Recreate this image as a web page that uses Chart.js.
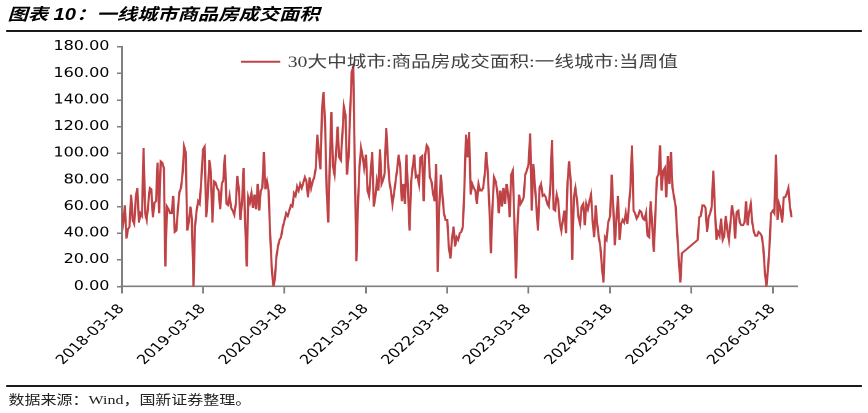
<!DOCTYPE html>
<html lang="zh-CN">
<head>
<meta charset="utf-8">
<title>一线城市商品房成交面积</title>
<script src="https://cdn.jsdelivr.net/npm/chart.js@4.4.1/dist/chart.umd.min.js"></script>
<style>
  html, body { margin: 0; padding: 0; background: #fff; }
  body { width: 868px; height: 413px; overflow: hidden; }
  /* the reference is drawn ~1.23x wider than tall, so the whole page is stretched */
  .page { position: relative; width: 706px; height: 413px; transform: scaleX(1.2295); transform-origin: 0 0; }
  .title { position: absolute; left: 6px; top: 4px; font: italic bold 16.5px "Liberation Sans", "Noto Sans CJK SC", sans-serif; line-height: 20px; color: #000; white-space: nowrap; }
  .rule { position: absolute; left: 5px; width: 696px; height: 2px; background: #1a1a1a; }
  .chartBox { position: absolute; left: 0; top: 33px; width: 706px; height: 350px; }
  .source { position: absolute; left: 7px; top: 391px; font: 13px "Liberation Serif", "Noto Sans CJK SC", serif; line-height: 18px; color: #222; white-space: nowrap; }
</style>
</head>
<body>
<div class="page">
  <div class="title">图表 10：一线城市商品房成交面积</div>
  <div class="rule" style="top:30px"></div>
  <div class="chartBox"><canvas id="myChart"></canvas></div>
  <div class="rule" style="top:385px"></div>
  <div class="source">数据来源：Wind，国新证券整理。</div>
</div>
<script>
let seriesName = "30大中城市:商品房成交面积:一线城市:当周值";

// each year list is weekly, starting on that year's 03-18
let yearStarts = ["2018-03-18", "2019-03-18", "2020-03-18", "2021-03-18", "2022-03-18",
                  "2023-03-18", "2024-03-18", "2025-03-18", "2026-03-18"];

let wk2018 = [55,48,61,36,43,45,69,50,47,67,74,48,55,53,104,55,50,62,74,73,52,63,64,93,55,94,93,89,15,60,58,55,55,68,41,42,58,71,74,85,105,101,42,48,60,51,0,45,57,64,62,80];
let wk2019 = [103,105,52,67,95,86,48,79,78,74,72,58,77,80,99,62,61,68,59,57,54,62,83,72,50,64,89,47,15,67,63,70,59,69,58,77,57,72,74,101,73,79,72,40,15,0,5,22,30,35,37,44];
let wk2020 = [50,55,53,57,61,60,70,68,75,72,77,74,78,82,79,67,82,74,79,82,89,114,99,88,134,146,120,70,48,95,131,90,84,101,120,97,95,113,135,129,84,97,130,161,165,90,19,60,90,104,98,89];
let wk2021 = [99,72,68,85,101,60,67,79,72,103,77,80,85,119,97,79,72,62,70,79,88,99,89,64,77,62,99,70,42,79,90,99,82,83,77,97,98,64,99,106,104,82,79,70,64,92,11,60,84,69,55,50];
let wk2022 = [50,30,21,35,45,30,37,35,40,41,45,75,114,97,116,69,77,74,72,62,77,72,72,74,84,101,85,60,25,60,82,79,72,55,72,60,74,62,77,70,52,84,87,50,6,45,69,62,64,67,84,87];
let wk2023 = [92,115,57,92,77,60,42,74,77,68,69,67,62,60,77,110,58,57,69,64,48,42,50,57,40,79,94,79,20,67,74,65,52,47,60,62,46,62,58,64,69,50,37,61,47,37,30,15,3,37,35,48];
let wk2024 = [53,84,60,31,50,68,35,47,50,48,55,47,60,75,106,57,55,51,53,57,56,51,50,55,38,37,64,45,26,55,82,84,106,72,87,89,67,98,77,101,74,67,60,40,20,3,25,null,null,null,null,null];
let wk2025 = [null,null,null,null,35,52,53,61,61,59,41,52,55,60,87,59,35,41,38,51,35,38,53,42,35,48,61,53,36,56,57,48,46,46,48,64,46,56,62,48,41,38,38,41,40,38,30,12,0,12,30,55];
let wk2026 = [57,55,99,50,62,58,48,67,67,70,74,60,52];

let yMin = 0;
let yMax = 180;
let yStep = 20;

let weekly = [wk2018, wk2019, wk2020, wk2021, wk2022, wk2023, wk2024, wk2025, wk2026];

function dayOf(s) {
  return (Date.parse(s) - Date.parse(yearStarts[0])) / 86400000;
}

let points = [];
yearStarts.forEach((start, i) => {
  weekly[i].forEach((v, k) => {
    points.push({ x: dayOf(start) + 7 * k, y: v });
  });
});

let labelByDay = {};
yearStarts.forEach((s) => { labelByDay[dayOf(s)] = s; });

// legend sits inside the plot, centred, like the original
const legendInPlot = {
  id: "legendInPlot",
  afterDatasetsDraw(chart) {
    const ctx = chart.ctx;
    const area = chart.chartArea;
    const ds = chart.data.datasets[0];
    ctx.save();
    ctx.font = '16px "Liberation Serif", "Noto Sans CJK SC", serif';
    const textW = ctx.measureText(ds.label).width;
    const lineW = 32, gap = 6;
    const x0 = (area.left + area.right) / 2 - (lineW + gap + textW) / 2;
    const y = area.top + 15;
    ctx.strokeStyle = ds.borderColor;
    ctx.lineWidth = 2;
    ctx.beginPath();
    ctx.moveTo(x0, y);
    ctx.lineTo(x0 + lineW, y);
    ctx.stroke();
    ctx.fillStyle = "#404040";
    ctx.textBaseline = "middle";
    ctx.fillText(ds.label, x0 + lineW + gap, y + 1);
    ctx.restore();
  },
};

const axisGrey = "#7f7f7f";
const tickFont = { family: "DejaVu Sans", size: 13 };

new Chart(document.getElementById("myChart"), {
  type: "line",
  data: {
    datasets: [
      {
        label: seriesName,
        data: points,
        borderColor: "#BF4346",
        borderWidth: 1.8,
        pointRadius: 0,
        tension: 0,
        spanGaps: true,
      },
    ],
  },
  options: {
    responsive: true,
    maintainAspectRatio: false,
    animation: false,
    devicePixelRatio: 2,
    layout: { padding: { left: 0, right: 57.7, top: 11, bottom: 0 } },
    plugins: {
      legend: { display: false },
      tooltip: { enabled: false },
    },
    scales: {
      x: {
        type: "linear",
        min: 0,
        max: 3031,
        afterBuildTicks: (axis) => {
          axis.ticks = yearStarts.map((s) => ({ value: dayOf(s) }));
        },
        afterFit: (axis) => { axis.height = 96.5; },
        ticks: {
          autoSkip: false,
          minRotation: 48,
          maxRotation: 48,
          padding: 8,
          color: "#000",
          font: tickFont,
          callback: (v) => labelByDay[v] || "",
        },
        grid: { drawOnChartArea: false, drawTicks: true, tickLength: 7, color: axisGrey, lineWidth: 1.5 },
        border: { display: true, color: axisGrey, width: 1.6 },
      },
      y: {
        min: yMin,
        max: yMax,
        afterFit: (axis) => { axis.width = 99; },
        ticks: {
          stepSize: yStep,
          padding: 6,
          color: "#000",
          font: tickFont,
          callback: (v) => v.toFixed(2),
        },
        grid: { drawOnChartArea: false, drawTicks: true, tickLength: 4, color: axisGrey, lineWidth: 1.5 },
        border: { display: true, color: axisGrey, width: 1.5 },
      },
    },
  },
  plugins: [legendInPlot],
});
</script>
</body>
</html>
